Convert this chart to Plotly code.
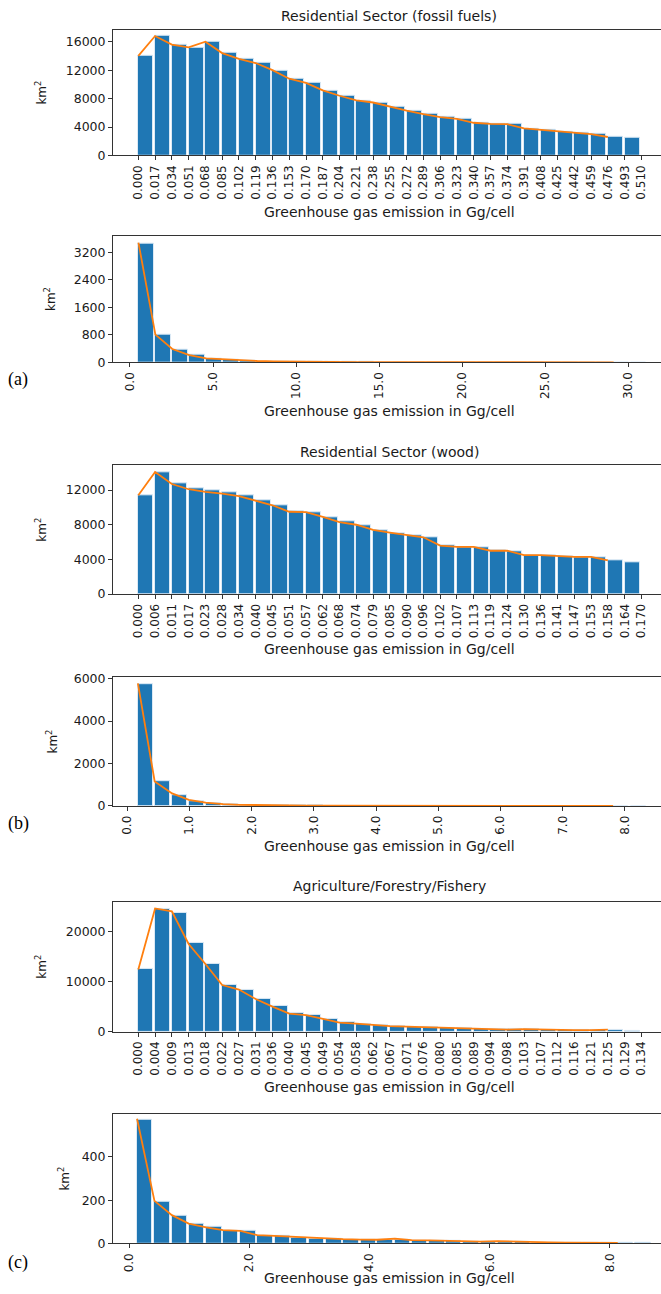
import plotly.graph_objects as go

W, H = 661, 1294

# ---------------- data ----------------
fossil_labels = ["0.000", "0.017", "0.034", "0.051", "0.068", "0.085", "0.102", "0.119", "0.136", "0.153",
                 "0.170", "0.187", "0.204", "0.221", "0.238", "0.255", "0.272", "0.289", "0.306", "0.323",
                 "0.340", "0.357", "0.374", "0.391", "0.408", "0.425", "0.442", "0.459", "0.476", "0.493", "0.510"]
fossil_counts = [14000, 16800, 15600, 15200, 15950, 14450, 13650, 13050, 11950, 10800,
                 10200, 9150, 8450, 7750, 7450, 6850, 6300, 5800, 5400, 5150,
                 4600, 4450, 4400, 3800, 3600, 3400, 3200, 3000, 2650, 2450]
fossil_line = [14000, 16800, 15600, 15200, 16000, 14400, 13600, 13000, 12000, 10800,
               10200, 9150, 8400, 7750, 7450, 6850, 6300, 5800, 5400, 5150,
               4600, 4450, 4400, 3800, 3600, 3400, 3200, 3000, 2600]

fossil_hi_edges = [0.51, 1.53, 2.55, 3.57, 4.59, 5.62, 6.64, 7.66, 8.68, 9.70,
                   10.72, 11.74, 12.76, 13.78, 14.80, 15.83, 16.85, 17.87, 18.89, 19.91,
                   20.93, 21.95, 22.97, 23.99, 25.01, 26.04, 27.06, 28.08, 29.10, 30.12]
fossil_hi_counts = [3460, 810, 375, 215, 105, 65, 40, 28, 20, 15, 12, 10, 8, 7, 6,
                    5, 4, 4, 3, 3, 3, 2, 2, 2, 2, 1, 1, 1, 1, 1]
fossil_hi_line = [3490, 810, 390, 210, 115, 85, 55, 40, 30, 22, 17, 13, 10, 8, 7,
                  6, 5, 4, 4, 3, 3, 3, 2, 2, 2, 2, 1, 1, 1]

wood_labels = ["0.000", "0.006", "0.011", "0.017", "0.023", "0.028", "0.034", "0.040", "0.045", "0.051",
               "0.057", "0.062", "0.068", "0.074", "0.079", "0.085", "0.090", "0.096", "0.102", "0.107",
               "0.113", "0.119", "0.124", "0.130", "0.136", "0.141", "0.147", "0.153", "0.158", "0.164", "0.170"]
wood_counts = [11450, 14100, 12800, 12230, 11960, 11700, 11390, 10820, 10250, 9600,
               9450, 8910, 8380, 7960, 7390, 7050, 6780, 6550, 5600, 5410,
               5410, 5030, 4950, 4500, 4500, 4380, 4190, 4270, 3890, 3620]
wood_line = [11400, 14100, 12700, 12100, 11800, 11600, 11300, 10800, 10250, 9500,
             9450, 8900, 8300, 8000, 7400, 7100, 6800, 6550, 5600, 5450,
             5450, 5000, 5000, 4500, 4500, 4400, 4300, 4300, 3900]

wood_hi_edges = [0.17, 0.44, 0.72, 0.99, 1.26, 1.54, 1.81, 2.08, 2.35, 2.63,
                 2.90, 3.17, 3.45, 3.72, 3.99, 4.27, 4.54, 4.81, 5.08, 5.36,
                 5.63, 5.90, 6.18, 6.45, 6.72, 7.00, 7.27, 7.54, 7.81, 8.09]
wood_hi_counts = [5750, 1150, 520, 220, 110, 60, 35, 25, 18, 13, 10, 8, 6, 5, 4,
                  4, 3, 3, 2, 2, 2, 2, 1, 1, 1, 1, 1, 1, 1, 1]
wood_hi_line = [5780, 1150, 590, 280, 155, 80, 50, 35, 25, 18, 14, 11, 9, 7, 6,
                5, 4, 3, 3, 3, 2, 2, 2, 2, 1, 1, 1, 1, 1]

agri_labels = ["0.000", "0.004", "0.009", "0.013", "0.018", "0.022", "0.027", "0.031", "0.036", "0.040",
               "0.045", "0.049", "0.054", "0.058", "0.062", "0.067", "0.071", "0.076", "0.080", "0.085",
               "0.089", "0.094", "0.098", "0.103", "0.107", "0.112", "0.116", "0.121", "0.125", "0.129", "0.134"]
agri_counts = [12500, 24500, 23800, 17700, 13500, 9340, 8360, 6500, 5070, 3680,
               3290, 2570, 1900, 1580, 1250, 1120, 990, 860, 790, 660,
               590, 530, 460, 460, 400, 330, 300, 300, 260, 200]
agri_line = [12400, 24600, 24000, 17500, 13500, 9300, 8400, 6500, 5000, 3600,
             3300, 2600, 1800, 1600, 1300, 1100, 1000, 900, 900, 700,
             600, 500, 400, 500, 400, 300, 300, 300, 400]

agri_hi_edges = [0.13, 0.42, 0.71, 0.99, 1.28, 1.56, 1.85, 2.13, 2.42, 2.70,
                 2.99, 3.28, 3.56, 3.85, 4.13, 4.42, 4.70, 4.99, 5.27, 5.56,
                 5.85, 6.13, 6.42, 6.70, 6.99, 7.27, 7.56, 7.85, 8.13, 8.42]
agri_hi_counts = [572, 195, 129, 89, 77, 58, 57, 37, 34, 28, 24, 21, 19, 18, 17,
                  16, 14, 12, 11, 9, 8, 9, 6, 5, 4, 4, 3, 3, 2, 2]
agri_hi_line = [577, 197, 131, 92, 74, 62, 58, 38, 35, 31, 26, 22, 20, 18, 17,
                22, 15, 14, 12, 11, 8, 11, 8, 6, 5, 4, 3, 3, 3]

# ---------------- styling ----------------
BLUE = "#1f77b4"
ORANGE = "#ff7f0e"
TXT = "#1a1a1a"
FONT = "DejaVu Sans"
XLAB = "Greenhouse gas emission in Gg/cell"
YLAB = "km<sup>2</sup>"

panels = [
    dict(kind="cat", labels=fossil_labels, counts=fossil_counts, line=fossil_line,
         top=24, bottom=151, yr=[0, 17680], yt=[0, 4000, 8000, 12000, 16000],
         xr=[-1.51, 31.17], title="Residential Sector (fossil fuels)", ty=10, xly=208, yly=41),
    dict(kind="num", edges=fossil_hi_edges, counts=fossil_hi_counts, line=fossil_hi_line, bw=0.92,
         top=232, bottom=360, yr=[0, 3690], yt=[0, 800, 1600, 2400, 3200],
         xr=[-1.02, 31.95], xt=[0, 5, 10, 15, 20, 25, 30], xly=409, yly=50, tag="(a)", tagy=377),
    dict(kind="cat", labels=wood_labels, counts=wood_counts, line=wood_line,
         top=464, bottom=594, yr=[0, 14860], yt=[0, 4000, 8000, 12000],
         xr=[-1.51, 31.17], title="Residential Sector (wood)", ty=451, xly=650, yly=41),
    dict(kind="num", edges=wood_hi_edges, counts=wood_hi_counts, line=wood_hi_line, bw=0.246,
         top=678, bottom=808, yr=[0, 6070], yt=[0, 2000, 4000, 6000],
         xr=[-0.23, 8.58], xt=[0, 1, 2, 3, 4, 5, 6, 7, 8], xly=849, yly=52, tag="(b)", tagy=826),
    dict(kind="cat", labels=agri_labels, counts=agri_counts, line=agri_line,
         top=905, bottom=1036, yr=[0, 25900], yt=[0, 10000, 20000],
         xr=[-1.51, 31.17], title="Agriculture/Forestry/Fishery", ty=889, xly=1092, yly=41),
    dict(kind="num", edges=agri_hi_edges, counts=agri_hi_counts, line=agri_hi_line, bw=0.257,
         top=1119, bottom=1250, yr=[0, 600], yt=[0, 200, 400],
         xr=[-0.27, 8.85], xt=[0, 2, 4, 6, 8], xly=1285, yly=64, tag="(c)", tagy=1269),
]

fig = go.Figure()
annotations = []
layout = {}
AX_L = 113
x_left = AX_L / W

for i, p in enumerate(panels):
    n = i + 1
    xa = "x" if n == 1 else f"x{n}"
    ya = "y" if n == 1 else f"y{n}"
    if p["kind"] == "cat":
        bx = list(range(len(p["counts"])))
        lx = list(range(len(p["line"])))
        bw = 0.9
    else:
        bx = p["edges"]
        lx = p["edges"][:len(p["line"])]
        bw = p["bw"]
    fig.add_trace(go.Bar(x=bx, y=p["counts"], width=bw, offset=0, xaxis=xa, yaxis=ya,
                         marker=dict(color=BLUE, line=dict(color="#dbe9f5", width=1)),
                         showlegend=False))
    fig.add_trace(go.Scatter(x=lx, y=p["line"], mode="lines", xaxis=xa, yaxis=ya,
                             line=dict(color=ORANGE, width=1.8), showlegend=False))

    ydom = [1 - p["bottom"] / H, 1 - p["top"] / H]
    xkey = "xaxis" if n == 1 else f"xaxis{n}"
    ykey = "yaxis" if n == 1 else f"yaxis{n}"
    xdict = dict(domain=[x_left, 1], range=p["xr"], anchor=ya, showgrid=False, zeroline=False,
                 showline=True, linecolor="#333", linewidth=1, mirror=True,
                 ticks="outside", ticklen=4, tickcolor="#333", tickangle=-90,
                 tickfont=dict(family=FONT, size=12, color=TXT))
    if p["kind"] == "cat":
        xdict.update(tickmode="array", tickvals=list(range(len(p["labels"]))), ticktext=p["labels"])
    else:
        xdict.update(tickmode="array", tickvals=p["xt"], tickformat=".1f")
    layout[xkey] = xdict
    layout[ykey] = dict(domain=ydom, range=p["yr"], anchor=xa, showgrid=False, zeroline=False,
                        showline=True, linecolor="#333", linewidth=1,
                        ticks="outside", ticklen=4, tickcolor="#333",
                        tickmode="array", tickvals=p["yt"], tickformat="d",
                        tickfont=dict(family=FONT, size=12.5, color=TXT))

    cx = (AX_L + 665) / 2 / W
    if "title" in p:
        annotations.append(dict(text=p["title"], x=cx, y=1 - p["ty"] / H, xref="paper", yref="paper",
                                showarrow=False, xanchor="center", yanchor="middle",
                                font=dict(family=FONT, size=14, color=TXT)))
    annotations.append(dict(text=XLAB, x=cx, y=1 - p["xly"] / H, xref="paper", yref="paper",
                            showarrow=False, xanchor="center", yanchor="middle",
                            font=dict(family=FONT, size=14, color=TXT)))
    annotations.append(dict(text=YLAB, x=p["yly"] / W, y=1 - (p["top"] + p["bottom"]) / 2 / H,
                            xref="paper", yref="paper", showarrow=False, textangle=-90,
                            xanchor="center", yanchor="middle",
                            font=dict(family=FONT, size=12, color=TXT)))
    if "tag" in p:
        annotations.append(dict(text=p["tag"], x=18 / W, y=1 - p["tagy"] / H, xref="paper", yref="paper",
                                showarrow=False, xanchor="center", yanchor="middle",
                                font=dict(family="Liberation Serif", size=18, color="#000")))

fig.update_layout(width=W, height=H, margin=dict(l=0, r=0, t=0, b=0),
                  plot_bgcolor="white", paper_bgcolor="white", bargap=0,
                  annotations=annotations, **layout)

fig.write_html("out.html", config={"displayModeBar": False},
               post_script="document.body.style.margin='0';document.body.style.overflow='hidden';")
